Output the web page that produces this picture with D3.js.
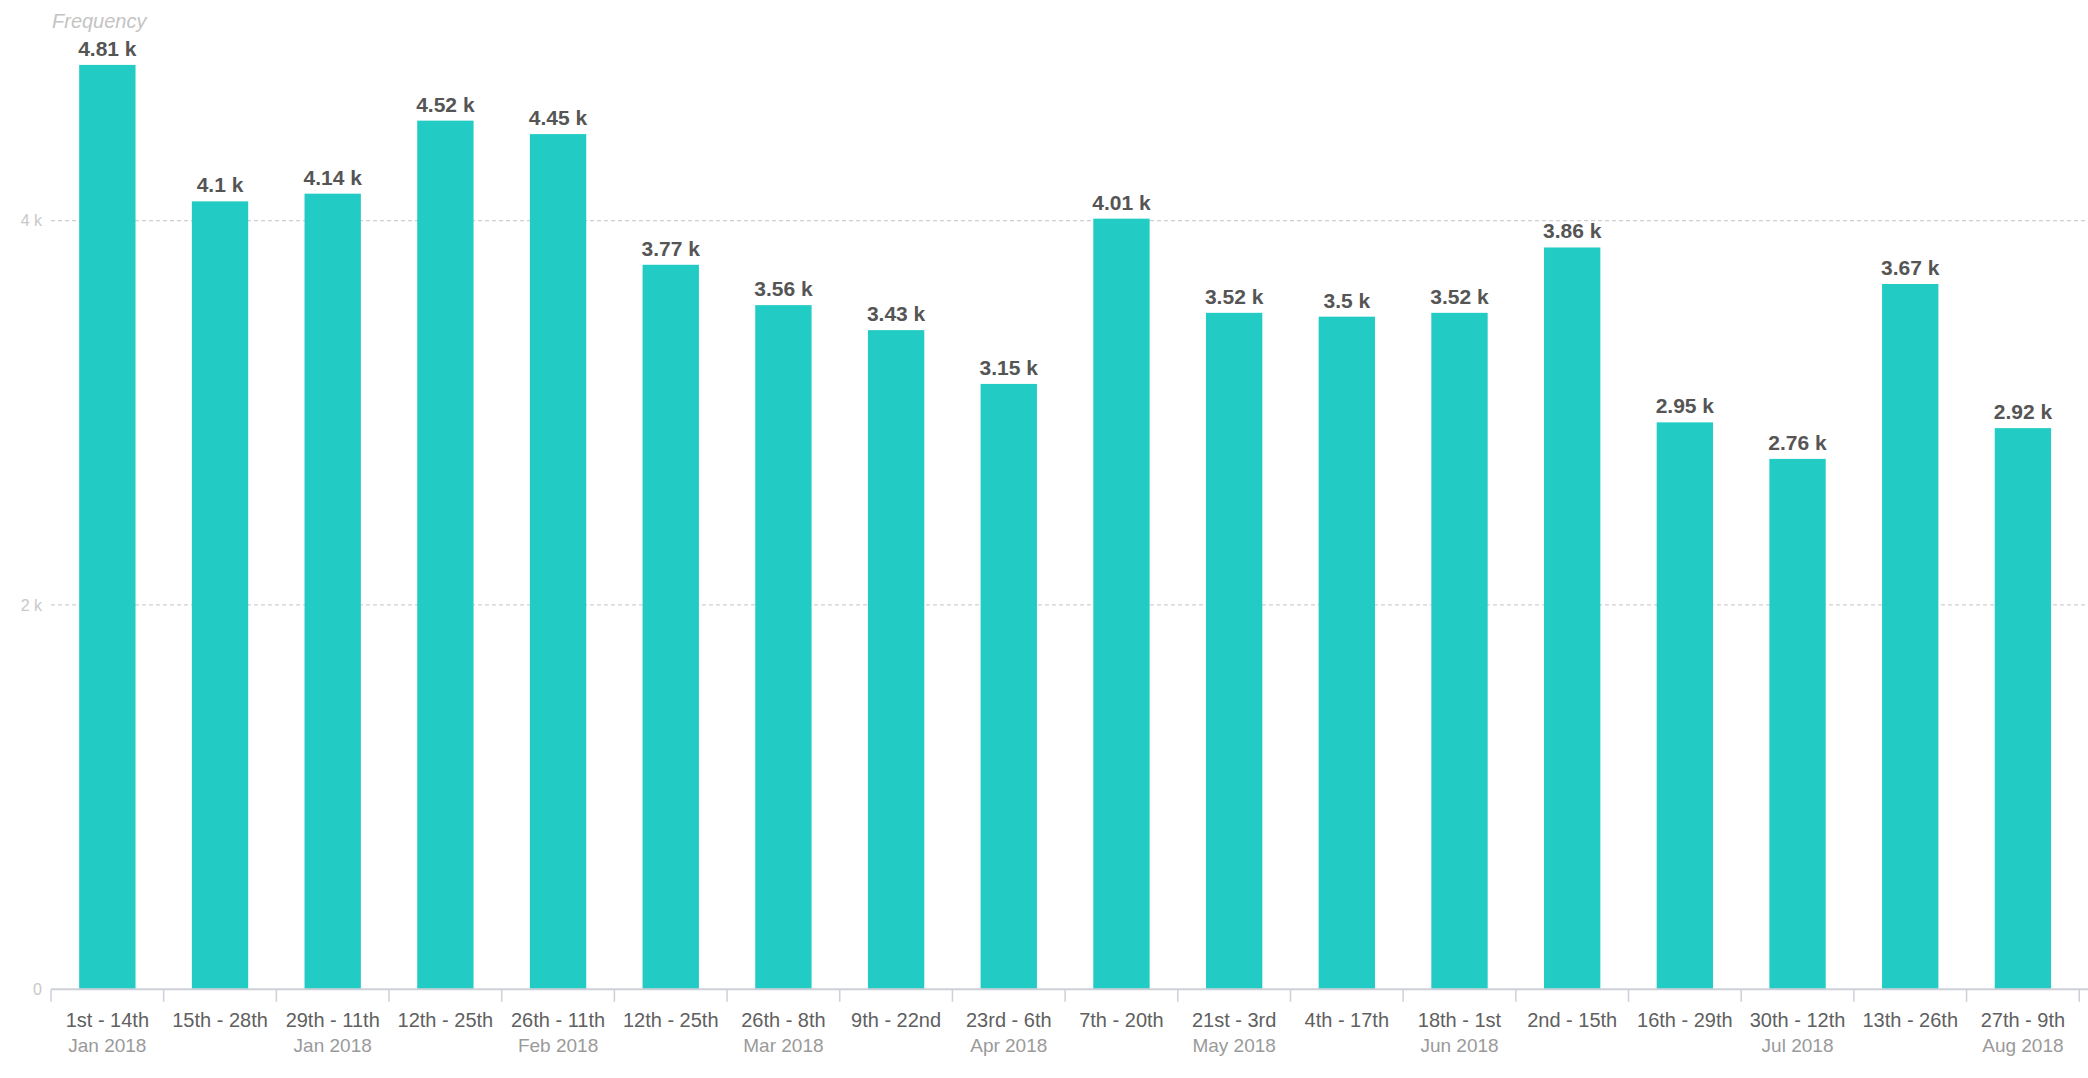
<!DOCTYPE html>
<html>
<head>
<meta charset="utf-8">
<script src="https://cdn.jsdelivr.net/npm/d3@7"></script>
<style>
  html, body { margin: 0; padding: 0; background: #fff; }
  svg { display: block; font-family: "Liberation Sans", Arial, sans-serif; }
</style>
</head>
<body>
<svg id="chart" width="2088" height="1078"></svg>
<script>
// ---- data ----
const categories = ["1st - 14th","15th - 28th","29th - 11th","12th - 25th","26th - 11th","12th - 25th",
  "26th - 8th","9th - 22nd","23rd - 6th","7th - 20th","21st - 3rd","4th - 17th","18th - 1st",
  "2nd - 15th","16th - 29th","30th - 12th","13th - 26th","27th - 9th","10th - 23rd"];
const monthLabels = ["Jan 2018","","Jan 2018","","Feb 2018","","Mar 2018","","Apr 2018","",
  "May 2018","","Jun 2018","","","Jul 2018","","Aug 2018",""];
const values = [4810,4100,4140,4520,4450,3770,3560,3430,3150,4010,3520,3500,3520,3860,2950,2760,3670,2920,null];
const yTicks = [0,2000,4000];
const yTickLabels = ["0","2 k","4 k"];
const yTitle = "Frequency";

// ---- layout ----
const W = 2088, H = 1078;
const left = 51, step = 112.68;
const baseY = 989.3, topY = 28.4;
const svg = d3.select("#chart");

const x = d3.scaleBand().domain(d3.range(categories.length))
  .range([left, left + step * categories.length]).padding(0);
const y = d3.scaleLinear().domain([0, 5000]).range([baseY, topY]);

// gridlines
svg.append("g").selectAll("line").data(yTicks.filter(t => t > 0)).join("line")
  .attr("x1", left).attr("x2", W)
  .attr("y1", d => y(d)).attr("y2", d => y(d))
  .attr("stroke", "#cfcfcf").attr("stroke-width", 1.3).attr("stroke-dasharray", "4,3");

// y tick labels
svg.append("g").selectAll("text").data(yTicks).join("text")
  .attr("x", 42).attr("y", d => y(d)).attr("dy", "0.35em")
  .attr("text-anchor", "end").attr("font-size", 16).attr("fill", "#c8c8c8")
  .text((d, i) => yTickLabels[i]);

// y title
svg.append("text").attr("x", 52).attr("y", 28).attr("font-size", 20)
  .attr("font-style", "italic").attr("fill", "#c4c4c4").text(yTitle);

// bars
const barW = x.bandwidth() * 0.5;
const barData = values.map((v, i) => ({ v, i })).filter(d => d.v != null);
svg.append("g").selectAll("rect").data(barData).join("rect")
  .attr("x", d => x(d.i) + (x.bandwidth() - barW) / 2)
  .attr("width", barW)
  .attr("y", d => y(d.v))
  .attr("height", d => baseY - y(d.v))
  .attr("fill", "#22ccc5");

// value labels
const fmt = d3.format(".3~r");
svg.append("g").selectAll("text").data(barData).join("text")
  .attr("x", d => x(d.i) + x.bandwidth() / 2)
  .attr("y", d => y(d.v) - 9)
  .attr("text-anchor", "middle").attr("font-size", 21).attr("font-weight", "bold")
  .attr("fill", "#555555")
  .text(d => fmt(d.v / 1000) + " k");

// x axis line
svg.append("line").attr("x1", left).attr("x2", W).attr("y1", baseY).attr("y2", baseY)
  .attr("stroke", "#cdd0d8").attr("stroke-width", 2);

// x ticks at band edges
svg.append("g").selectAll("line").data(d3.range(categories.length)).join("line")
  .attr("x1", d => x(d)).attr("x2", d => x(d))
  .attr("y1", baseY).attr("y2", baseY + 12.5)
  .attr("stroke", "#cdd0d8").attr("stroke-width", 1.5);

// category labels
svg.append("g").selectAll("text").data(categories).join("text")
  .attr("x", (d, i) => x(i) + x.bandwidth() / 2)
  .attr("y", 1027.3)
  .attr("text-anchor", "middle").attr("font-size", 20).attr("fill", "#606060")
  .text(d => d);

// month labels
svg.append("g").selectAll("text").data(monthLabels).join("text")
  .attr("x", (d, i) => x(i) + x.bandwidth() / 2)
  .attr("y", 1052)
  .attr("text-anchor", "middle").attr("font-size", 19).attr("fill", "#9a9a9a")
  .text(d => d);
</script>
</body>
</html>
